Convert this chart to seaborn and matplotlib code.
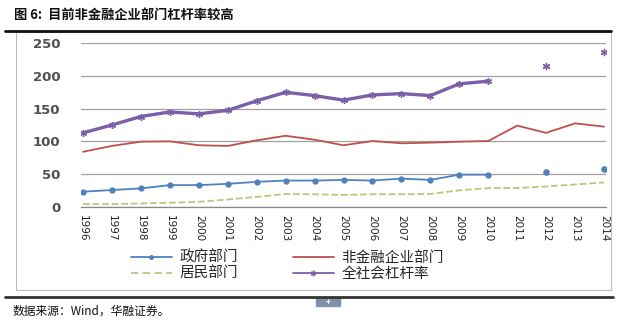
import numpy as np
import pandas as pd
import matplotlib
matplotlib.use("Agg")
import matplotlib.pyplot as plt
import seaborn as sns
from matplotlib.patches import Rectangle
from matplotlib.lines import Line2D

nan = np.nan
years = list(range(1996, 2015))
gov = [23, 25.5, 28, 33, 33, 35, 38, 40, 40, 41, 40, 43, 41, 49, 49, nan, 53, nan, 58]
nonfin = [84, 93, 99.5, 100, 94, 93, 101.5, 108.5, 102.5, 94, 100.5, 97, 98, 99.5, 100.5, 124, 113, 127.5, 122.5]
household = [4, 4, 5, 6, 7.5, 11, 15, 19.5, 19, 18, 19, 19, 19.5, 25, 28.5, 28.5, 31, 34, 37]
total = [113, 125, 138, 145, 142, 147.5, 162, 175, 170, 163, 171, 173, 170, 188, 192, nan, 215, nan, 236]
labels = ["政府部门", "非金融企业部门", "居民部门", "全社会杠杆率"]
title = "图 6:  目前非金融企业部门杠杆率较高"
source = "数据来源：Wind，华融证券。"
yticks = [0, 50, 100, 150, 200, 250]

sns.set_style("white")
plt.rcParams["font.family"] = ["Noto Sans CJK SC", "DejaVu Sans"]

fig = plt.figure(figsize=(6.4, 3.26), dpi=100)
ax = fig.add_axes([81 / 640, 1 - 206.7 / 326, 525 / 640, 163.4 / 326])

BLUE = "#4F81BD"
RED = "#C0504D"
GREEN = "#B5C97A"
PURPLE = "#7B5FA8"
ASTER = (6, 2, 0)


def runs(xs, ys):
    out, cur = [], []
    for x, y in zip(xs, ys):
        if np.isnan(y):
            if cur:
                out.append(cur)
            cur = []
        else:
            cur.append((x, y))
    if cur:
        out.append(cur)
    return out


def draw(ys, color, lw, marker, ms, ss=0, ls="-", dashes=None):
    for r in runs(years, ys):
        df = pd.DataFrame(r, columns=["year", "v"])
        if len(r) > 1:
            kw = dict(x="year", y="v", data=df, ax=ax, color=color, linewidth=lw,
                      estimator=None, legend=False)
            if marker:
                kw.update(marker=marker, markersize=ms, markeredgecolor=color,
                          markerfacecolor=color, markeredgewidth=1)
            if dashes:
                kw.update(linestyle="--", dashes=dashes)
            sns.lineplot(**kw)
        else:
            if marker:
                sns.scatterplot(x="year", y="v", data=df, ax=ax, color=color,
                                marker=marker, s=ss, edgecolor=color,
                                linewidth=1, legend=False, zorder=4)


draw(household, GREEN, 1.3, None, 0, dashes=(4, 2.5))
draw(nonfin, RED, 1.3, None, 0)
draw(gov, BLUE, 1.3, "o", 3.5, ss=14)
draw(total, PURPLE, 2.4, ASTER, 5, ss=20)

ax.set_xlim(1996 - 2 / 28.94, 2014 + 2 / 28.94)
ax.set_ylim(0, 250)
ax.set_yticks(yticks)
ax.set_yticklabels([str(v) for v in yticks], fontsize=9.5, color="#505050",
                   fontweight="bold", family=["DejaVu Sans"])
ax.set_xticks(years)
ax.set_xticklabels([str(y) for y in years], rotation=-90, fontsize=7.5,
                   color="#222222", family=["DejaVu Sans"])
ax.tick_params(axis="y", length=0, pad=15)
ax.tick_params(axis="x", length=4, width=0.8, color="#888888", pad=2, direction="out")
ax.set_xlabel("")
ax.set_ylabel("")
for s in ["top", "right", "left"]:
    ax.spines[s].set_visible(False)
ax.spines["bottom"].set_color("#888888")
ax.spines["bottom"].set_linewidth(0.9)
ax.grid(axis="y", color="#A0A0A0", linewidth=0.9)
ax.grid(axis="x", visible=False)
ax.set_axisbelow(True)

handles = [
    Line2D([], [], color=BLUE, lw=1.3, marker="o", ms=2.5),
    Line2D([], [], color=GREEN, lw=1.3, ls="--", dashes=(4, 2.5)),
    Line2D([], [], color=RED, lw=1.3),
    Line2D([], [], color=PURPLE, lw=1.3, marker=ASTER, ms=4),
]
hl = [labels[0], labels[2], labels[1], labels[3]]
fig.legend(handles, hl, ncol=2, loc="upper left", bbox_to_anchor=(131 / 640, 1 - 251 / 326),
           frameon=False, fontsize=10.5, handlelength=2.8, handletextpad=0.5,
           columnspacing=3.8, labelspacing=0.12, borderaxespad=0, borderpad=0)

# frames
fig.patches.append(Rectangle((16 / 640, 1 - 290 / 326), 595 / 640, 258 / 326,
                             transform=fig.transFigure, fill=False,
                             edgecolor="#BBBBBB", linewidth=0.8))
fig.add_artist(Line2D([5 / 640, 611 / 640], [1 - 31 / 326] * 2, color="#111111", lw=2.0,
                      transform=fig.transFigure))
fig.add_artist(Line2D([5 / 640, 613 / 640], [1 - 297 / 326] * 2, color="#333333", lw=2.0,
                      transform=fig.transFigure))
fig.patches.append(Rectangle((316 / 640, 1 - 306 / 326), 24 / 640, 8 / 326,
                             transform=fig.transFigure, color="#8090A8"))
fig.text(328 / 640, 1 - 302 / 326, "+", color="white", fontsize=6, ha="center", va="center",
         fontweight="bold")

fig.text(14 / 640, 1 - 15 / 326, title, fontsize=9.5, fontweight="bold", style="italic",
         color="#111111", va="center", ha="left")
fig.text(13 / 640, 1 - 311 / 326, source, fontsize=8.5, color="#111111", va="center", ha="left")

fig.savefig("out.png", dpi=100)
